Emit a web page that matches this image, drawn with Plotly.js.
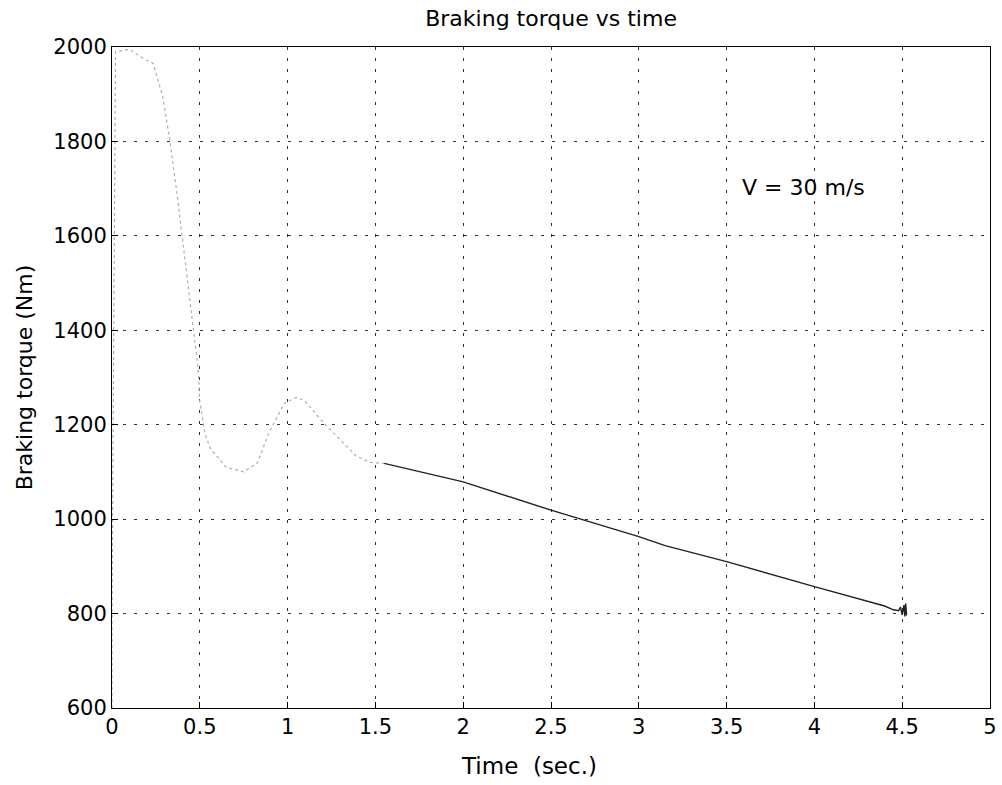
<!DOCTYPE html>
<html>
<head>
<meta charset="utf-8">
<script src="https://cdn.plot.ly/plotly-3.0.1.min.js"></script>
<style>html,body{margin:0;padding:0;background:#fff;}#chart{width:1002px;height:785px;}</style>
</head>
<body>
<div id="chart"></div>
<script>
// Early (faded) portion of the braking torque curve
const timeEarly = [0.0, 0.0, 0.02, 0.1, 0.18, 0.235, 0.29, 0.33, 0.37, 0.40, 0.42, 0.45, 0.47, 0.49, 0.50, 0.53, 0.56, 0.65, 0.75, 0.83, 0.89, 0.93, 0.98, 1.05, 1.10, 1.20, 1.27, 1.39, 1.47, 1.55];
const torqueEarly = [600, 800, 1990, 1995, 1975, 1965, 1893, 1800, 1690, 1595, 1540, 1450, 1380, 1320, 1249, 1180, 1150, 1110, 1100, 1120, 1180, 1210, 1245, 1258, 1250, 1206, 1180, 1134, 1120, 1118];
// Later (darker) portion
const timeLate = [1.55, 1.7, 2.0, 2.5, 3.0, 3.15, 3.5, 4.0, 4.4, 4.45, 4.48, 4.49, 4.50, 4.51, 4.515, 4.52, 4.525];
const torqueLate = [1118, 1105, 1079, 1019, 963, 944, 910, 857, 816, 808, 806, 814, 797, 818, 794, 821, 796];
const xTicks = [0, 0.5, 1, 1.5, 2, 2.5, 3, 3.5, 4, 4.5, 5];
const xTickText = ['0', '0.5', '1', '1.5', '2', '2.5', '3', '3.5', '4', '4.5', '5'];
const yTicks = [600, 800, 1000, 1200, 1400, 1600, 1800, 2000];
const noteText = 'V = 30 m/s';
const noteT = 3.94, noteV = 1703;
const xTitleText = 'Time  (sec.)';

const fontFam = 'DejaVu Sans, Verdana, sans-serif';
const traces = [
  {x: timeEarly, y: torqueEarly, mode: 'lines', line: {color: '#b0b0b0', width: 1.2, dash: 'dot'}, hoverinfo: 'skip'},
  {x: timeLate, y: torqueLate, mode: 'lines', line: {color: '#222', width: 1.4}, hoverinfo: 'skip'}
];
const axisCommon = {
  showline: true, mirror: true, linecolor: '#000', linewidth: 1,
  ticks: 'inside', ticklen: 6, tickcolor: '#000',
  showgrid: true, gridcolor: '#333', gridwidth: 1, griddash: '3px,8px',
  zeroline: false, tickfont: {family: fontFam, size: 21, color: '#000'}
};
const layout = {
  width: 1002, height: 785,
  paper_bgcolor: '#fff', plot_bgcolor: '#fff',
  margin: {l: 112, r: 12, t: 47, b: 77},
  showlegend: false,
  title: {text: 'Braking torque vs time', font: {family: fontFam, size: 22, color: '#000'}, x: 0.55, xanchor: 'center', y: 0.977, yanchor: 'middle'},
  xaxis: Object.assign({}, axisCommon, {
    range: [0, 5], tickvals: xTicks, ticktext: xTickText
  }),
  yaxis: Object.assign({}, axisCommon, {
    range: [600, 2000], tickvals: yTicks,
    title: {text: 'Braking torque (Nm)', font: {family: fontFam, size: 22, color: '#000'}, standoff: 14}
  }),
  annotations: [
    {x: noteT, y: noteV, xref: 'x', yref: 'y', text: noteText, showarrow: false,
      font: {family: fontFam, size: 22, color: '#000'}},
    {x: 0.475, y: -0.088, xref: 'paper', yref: 'paper', text: xTitleText, showarrow: false,
      xanchor: 'center', yanchor: 'middle', font: {family: fontFam, size: 23, color: '#000'}}
  ]
};
Plotly.newPlot('chart', traces, layout, {staticPlot: true, displayModeBar: false});
</script>
</body>
</html>
